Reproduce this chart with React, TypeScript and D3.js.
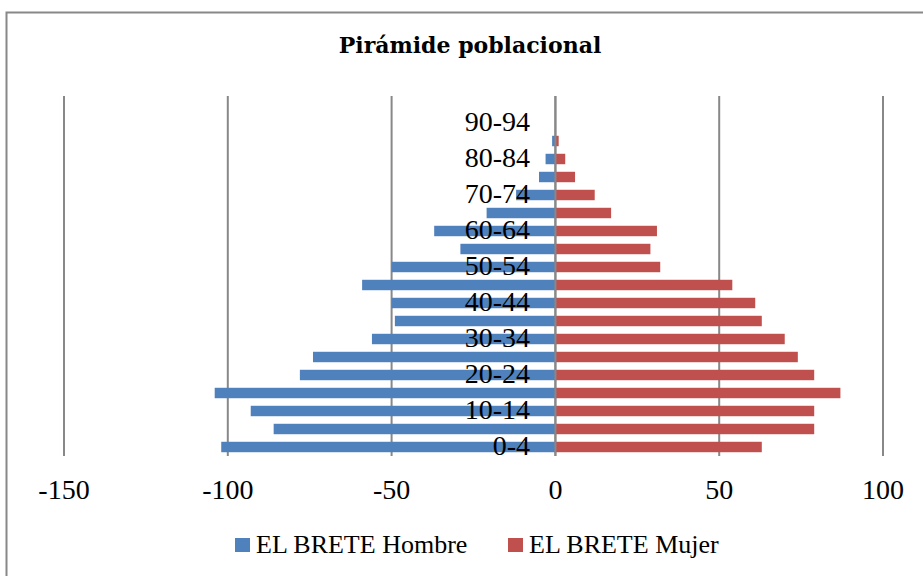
import React, {useEffect, useRef} from 'react';
import * as d3 from 'd3';

const grupos = ['0-4', '5-9', '10-14', '15-19', '20-24', '25-29', '30-34', '35-39', '40-44', '45-49',
    '50-54', '55-59', '60-64', '65-69', '70-74', '75-79', '80-84', '85-89', '90-94', '95-99'];
const hombre = [-102, -86, -93, -104, -78, -74, -56, -49, -50, -59, -50, -29, -37, -21, -12, -5, -3, -1, 0, 0];
const mujer = [63, 79, 79, 87, 79, 74, 70, 63, 61, 54, 32, 29, 31, 17, 12, 6, 3, 1, 0, 0];
const ticks = [-150, -100, -50, 0, 50, 100];
const series = ['EL BRETE Hombre', 'EL BRETE Mujer'];

const W = 923;
const H = 576;
const colors = ['#4f81bd', '#c0504d'];
const gridColor = '#888888';
const serif = '"Liberation Serif", serif';

export default function App() {
    const ref = useRef<SVGSVGElement>(null);

    useEffect(() => {
        drawChart();
    }, []);

    function drawChart() {
        const svg = d3.select(ref.current);
        svg.selectAll('*').remove();

        // chart border (cut off on the right and bottom)
        svg.append('rect')
            .attr('x', 6.5)
            .attr('y', 12.5)
            .attr('width', 960)
            .attr('height', 620)
            .attr('fill', '#fff')
            .attr('stroke', gridColor)
            .attr('stroke-width', 2);

        svg.append('text')
            .attr('x', 470)
            .attr('y', 53)
            .attr('text-anchor', 'middle')
            .style('font-family', '"DejaVu Serif", serif')
            .style('font-weight', 'bold')
            .style('font-size', '22px')
            .text('Pirámide poblacional');

        const x = d3.scaleLinear().domain([-150, 100]).range([64, 883]);
        const p = 0.42;
        const y = d3.scaleBand<string>()
            .domain(grupos)
            .range([456, 96])
            .paddingInner(p)
            .paddingOuter(p / 2);

        // vertical gridlines
        svg.append('g')
            .selectAll('line')
            .data(ticks)
            .enter()
            .append('line')
            .attr('x1', (d) => x(d))
            .attr('x2', (d) => x(d))
            .attr('y1', 96)
            .attr('y2', 456)
            .attr('stroke', gridColor)
            .attr('stroke-width', 2);

        // bars
        const bars = svg.append('g');
        [hombre, mujer].forEach((vals, s) => {
            bars.selectAll(null)
                .data(vals)
                .enter()
                .append('rect')
                .attr('x', (d) => x(Math.min(0, d)))
                .attr('width', (d) => Math.abs(x(d) - x(0)))
                .attr('y', (_, i) => y(grupos[i]) as number)
                .attr('height', y.bandwidth())
                .attr('fill', colors[s]);
        });

        // category axis at zero
        svg.append('line')
            .attr('x1', x(0))
            .attr('x2', x(0))
            .attr('y1', 96)
            .attr('y2', 456)
            .attr('stroke', gridColor)
            .attr('stroke-width', 2);

        // category labels, every other one
        svg.append('g')
            .selectAll('text')
            .data(grupos.filter((_, i) => i % 2 === 0 && i < 19))
            .enter()
            .append('text')
            .attr('x', 530)
            .attr('y', (d) => (y(d) as number) + y.bandwidth() / 2)
            .attr('dy', '0.3em')
            .attr('text-anchor', 'end')
            .style('font-family', serif)
            .style('font-size', '28px')
            .text((d) => d);

        // value axis labels
        svg.append('g')
            .selectAll('text')
            .data(ticks)
            .enter()
            .append('text')
            .attr('x', (d) => x(d))
            .attr('y', 499)
            .attr('text-anchor', 'middle')
            .style('font-family', serif)
            .style('font-size', '28px')
            .text((d) => d);

        // legend
        const legendX = [235, 508];
        const legend = svg.append('g');
        series.forEach((name, i) => {
            legend.append('rect')
                .attr('x', legendX[i])
                .attr('y', 538)
                .attr('width', 15)
                .attr('height', 14)
                .attr('fill', colors[i]);
            legend.append('text')
                .attr('x', legendX[i] + 21)
                .attr('y', 553)
                .style('font-family', serif)
                .style('font-size', '26px')
                .text(name);
        });
    }

    return (
        <svg ref={ref} width={W} height={H}
             style={{position: 'absolute', left: 0, top: 0, display: 'block', background: '#fff'}}/>
    );
}
